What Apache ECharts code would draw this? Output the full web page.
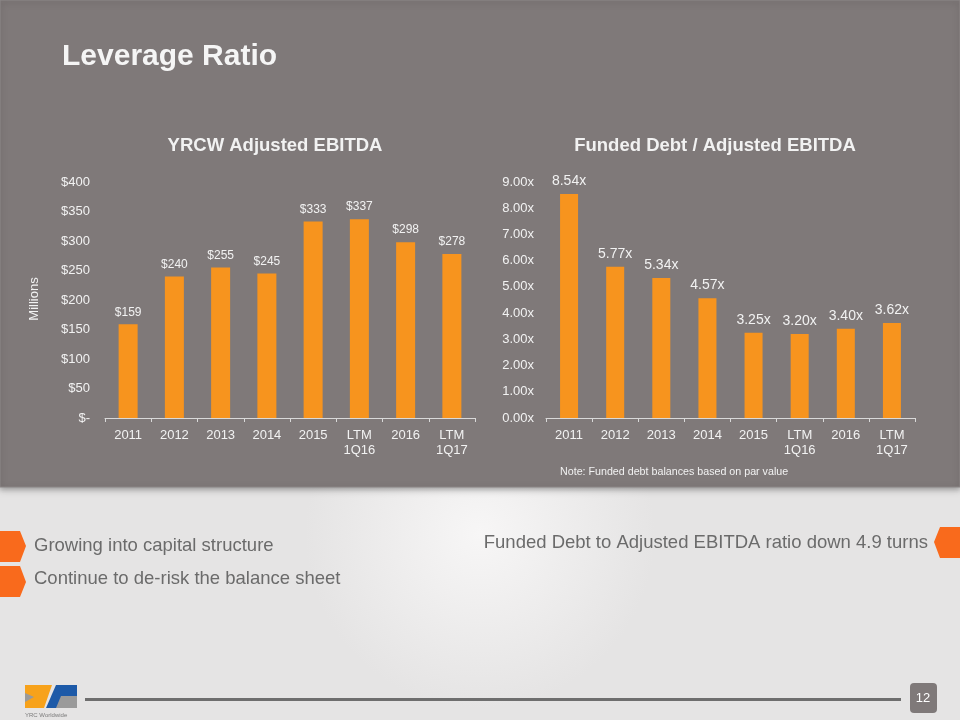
<!DOCTYPE html>
<html><head><meta charset="utf-8">
<script src="https://cdn.jsdelivr.net/npm/echarts@6/dist/echarts.min.js"></script>
<style>html,body{margin:0;padding:0;}#c{width:960px;height:720px;}</style>
</head><body><div id="c"></div>
<script>
const categories = ['2011','2012','2013','2014','2015','LTM\n1Q16','2016','LTM\n1Q17'];
const ebitda = [159, 240, 255, 245, 333, 337, 298, 278];
const leverage = [8.54, 5.77, 5.34, 4.57, 3.25, 3.20, 3.40, 3.62];
const ebitdaTicks = {min: 0, max: 400, interval: 50};
const leverageTicks = {min: 0, max: 9, interval: 1};

const FONT = '"Liberation Sans", Arial, sans-serif';
const ORANGE = '#F7941E';
const LIGHT = '#f2f2f2';
const chart = echarts.init(document.getElementById('c'), null, {renderer: 'canvas'});

function xAxis(gi) {
  return {
    type: 'category', gridIndex: gi, data: categories,
    axisLine: {lineStyle: {color: '#d9d9d9', width: 1}},
    axisTick: {show: true, length: 4, lineStyle: {color: '#d9d9d9'}},
    axisLabel: {color: LIGHT, fontFamily: FONT, fontSize: 13, margin: 10, lineHeight: 15, interval: 0}
  };
}

chart.setOption({
  backgroundColor: '#f0f0f0',
  animation: false,
  graphic: [
    {type: 'rect', z: -10, shape: {x: 0, y: 487, width: 960, height: 233},
     style: {fill: new echarts.graphic.RadialGradient(0.5, 0.2, 0.75, [{offset: 0, color: '#f7f6f6'}, {offset: 1, color: '#e5e4e4'}])}},
    {type: 'rect', z: -9, shape: {x: 0, y: 0, width: 960, height: 487},
     style: {fill: '#7f7979', stroke: '#8c8787', lineWidth: 1, shadowBlur: 6, shadowColor: 'rgba(0,0,0,0.35)', shadowOffsetY: 2}},
    {type: 'text', left: 62, top: 42, style: {text: 'Leverage Ratio', fill: '#f5f5f5', font: 'bold 30px ' + FONT}},
    {type: 'text', x: 275, y: 146, style: {text: 'YRCW Adjusted EBITDA', fill: LIGHT, font: 'bold 18.5px ' + FONT, align: 'center', verticalAlign: 'middle'}},
    {type: 'text', x: 715, y: 146, style: {text: 'Funded Debt / Adjusted EBITDA', fill: LIGHT, font: 'bold 18.5px ' + FONT, align: 'center', verticalAlign: 'middle'}},
    {type: 'text', x: 34, y: 299, rotation: Math.PI / 2, style: {text: 'Millions', fill: LIGHT, font: '13px ' + FONT, align: 'center', verticalAlign: 'middle'}},
    {type: 'text', x: 560, y: 472, style: {text: 'Note: Funded debt balances based on par value', fill: LIGHT, font: '10.7px ' + FONT, verticalAlign: 'middle'}},
    // bullets
    {type: 'polygon', shape: {points: [[0,531],[20,531],[26,546],[20,562],[0,562]]}, style: {fill: '#F96A1C'}},
    {type: 'polygon', shape: {points: [[0,566],[20,566],[26,582],[20,597],[0,597]]}, style: {fill: '#F96A1C'}},
    {type: 'polygon', shape: {points: [[940,527],[960,527],[960,558],[940,558],[934,542]]}, style: {fill: '#F96A1C'}},
    {type: 'text', x: 34, y: 546, style: {text: 'Growing into capital structure', fill: '#6b6b6b', font: '18.5px ' + FONT, verticalAlign: 'middle'}},
    {type: 'text', x: 34, y: 579, style: {text: 'Continue to de-risk the balance sheet', fill: '#6b6b6b', font: '18.5px ' + FONT, verticalAlign: 'middle'}},
    {type: 'text', x: 928, y: 543, style: {text: 'Funded Debt to Adjusted EBITDA ratio down 4.9 turns', fill: '#6b6b6b', font: '18.5px ' + FONT, align: 'right', verticalAlign: 'middle'}},
    // footer
    {type: 'rect', shape: {x: 85, y: 698, width: 816, height: 3}, style: {fill: '#6e6e6e'}},
    {type: 'rect', shape: {x: 910, y: 683, width: 27, height: 30, r: 4}, style: {fill: '#7f7979'}},
    {type: 'text', x: 923, y: 698, style: {text: '12', fill: '#ffffff', font: '13px ' + FONT, align: 'center', verticalAlign: 'middle'}},
    // logo
    {type: 'polygon', shape: {points: [[25,685],[52,685],[44,708],[25,708]]}, style: {fill: '#F7A21B'}},
    {type: 'polygon', shape: {points: [[25,693],[34,697],[25,702]]}, style: {fill: '#9a9a9a'}},
    {type: 'polygon', shape: {points: [[56,685],[77,685],[77,708],[46,708]]}, style: {fill: '#1d5aa8'}},
    {type: 'polygon', shape: {points: [[61,696],[77,696],[77,708],[56,708]]}, style: {fill: '#9a9a9a'}},
    {type: 'text', x: 25, y: 715, style: {text: 'YRC Worldwide', fill: '#7a7a7a', font: '6px ' + FONT, verticalAlign: 'middle'}}
  ],
  grid: [
    {left: 105, right: 485, top: 182, bottom: 302},
    {left: 546, right: 45, top: 182, bottom: 302}
  ],
  xAxis: [xAxis(0), xAxis(1)],
  yAxis: [
    {type: 'value', gridIndex: 0, min: ebitdaTicks.min, max: ebitdaTicks.max, interval: ebitdaTicks.interval,
     splitLine: {show: false}, axisLine: {show: false}, axisTick: {show: false},
     axisLabel: {color: LIGHT, fontFamily: FONT, fontSize: 13, margin: 15,
       formatter: v => v === 0 ? '$-' : '$' + v}},
    {type: 'value', gridIndex: 1, min: leverageTicks.min, max: leverageTicks.max, interval: leverageTicks.interval,
     splitLine: {show: false}, axisLine: {show: false}, axisTick: {show: false},
     axisLabel: {color: LIGHT, fontFamily: FONT, fontSize: 13, margin: 12,
       formatter: v => v.toFixed(2) + 'x'}}
  ],
  series: [
    {type: 'bar', xAxisIndex: 0, yAxisIndex: 0, data: ebitda, barWidth: 19,
     itemStyle: {color: ORANGE},
     label: {show: true, position: 'top', distance: 6, color: LIGHT, fontFamily: FONT, fontSize: 12,
       formatter: p => '$' + p.value}},
    {type: 'bar', xAxisIndex: 1, yAxisIndex: 1, data: leverage, barWidth: 18,
     itemStyle: {color: ORANGE},
     label: {show: true, position: 'top', distance: 6, color: LIGHT, fontFamily: FONT, fontSize: 14,
       formatter: p => p.value.toFixed(2) + 'x'}}
  ]
});
</script></body></html>
